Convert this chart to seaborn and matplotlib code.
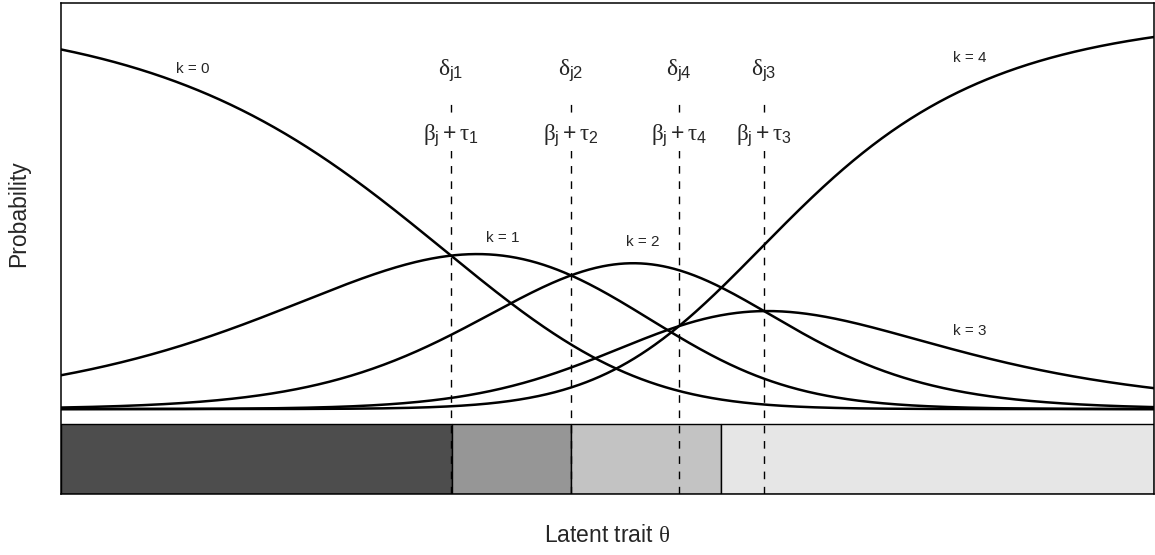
import numpy as np
import pandas as pd
import matplotlib
matplotlib.use("Agg")
import matplotlib.pyplot as plt
import seaborn as sns

# Partial credit model: step difficulties (delta_j1 .. delta_j4) on the latent scale
step_names = ["1", "2", "3", "4"]
deltas = [-1.0, -0.273, 0.897, 0.382]
categories = [0, 1, 2, 3, 4]
theta_range = [-3.364, 3.261]
region_colors = ["#4D4D4D", "#969696", "#C3C3C3", "#E6E6E6"]

sns.set_theme(style="white")
plt.rcParams["font.family"] = ["Liberation Sans", "DejaVu Sans"]
plt.rcParams["mathtext.fontset"] = "custom"
plt.rcParams["mathtext.rm"] = "Liberation Sans"
plt.rcParams["mathtext.it"] = "Liberation Serif"
plt.rcParams["mathtext.bf"] = "Liberation Sans:bold"

# category probabilities
theta = np.linspace(theta_range[0], theta_range[1], 800)
cum = np.vstack([np.zeros_like(theta)] +
                [np.sum([theta - d for d in deltas[:k]], axis=0) for k in range(1, 5)])
expo = np.exp(cum - cum.max(axis=0))
probs = expo / expo.sum(axis=0)

df = pd.DataFrame({
    "theta": np.tile(theta, len(categories)),
    "prob": probs.ravel(),
    "k": np.repeat([f"k = {k}" for k in categories], len(theta)),
})

fig = plt.figure(figsize=(11.55, 5.55), dpi=100)
ax = fig.add_axes([61 / 1155, 1 - 494 / 555, 1093 / 1155, 491 / 555])

sns.lineplot(data=df, x="theta", y="prob", hue="k", units="k", estimator=None,
             palette=["black"] * len(categories), linewidth=1.8, legend=False,
             ax=ax, zorder=3)

# modal-category regions shown as a strip under the curves
modal = probs.argmax(axis=0)
change = np.where(np.diff(modal) != 0)[0]
edges = [theta_range[0]] + [0.5 * (theta[i] + theta[i + 1]) for i in change] + [theta_range[1]]
bar_bottom, bar_top = -0.215, -0.038
for i in range(len(edges) - 1):
    ax.barh(bar_bottom, edges[i + 1] - edges[i], left=edges[i], height=bar_top - bar_bottom,
            align="edge", color=region_colors[i], edgecolor="black", linewidth=1.0, zorder=1)

# step locations
for name, d in zip(step_names, deltas):
    ax.plot([d, d], [bar_bottom, 0.79], color="black", linestyle=(0, (5.5, 5.5)),
            linewidth=1.0, zorder=2)
    ax.text(d, 0.858, rf"$\delta_{{\mathrm{{j{name}}}}}$", ha="center", va="center",
            fontsize=17, zorder=4)
    ax.text(d, 0.694, rf"$\beta_{{\mathrm{{j}}}} + \tau_{{{name}}}$", ha="center",
            va="center", fontsize=16.5, zorder=4,
            bbox=dict(boxstyle="square,pad=0.15", facecolor="white", edgecolor="none"))

# category labels
label_pos = {0: (-2.564, 0.861), 1: (-0.685, 0.433), 2: (0.164, 0.423),
             3: (2.145, 0.197), 4: (2.145, 0.889)}
for k, (x, y) in label_pos.items():
    ax.text(x, y, f"k = {k}", ha="center", va="center", fontsize=11)

ax.set_xlim(theta_range)
ax.set_ylim(-0.215, 1.028)
ax.set_xticks([])
ax.set_yticks([])
ax.set_xlabel("")
ax.set_ylabel("")
for sp in ax.spines.values():
    sp.set_color("black")
    sp.set_linewidth(1.1)

ax.text(-0.0384, 0.494, "Probability", rotation=90, ha="center", va="center",
        fontsize=16.5, transform=ax.get_yaxis_transform())
ax.text(0.5, -0.0855, r"Latent trait $\theta$", ha="center", va="center",
        fontsize=16.5, transform=ax.transAxes)

fig.savefig("out.png", dpi=100)
